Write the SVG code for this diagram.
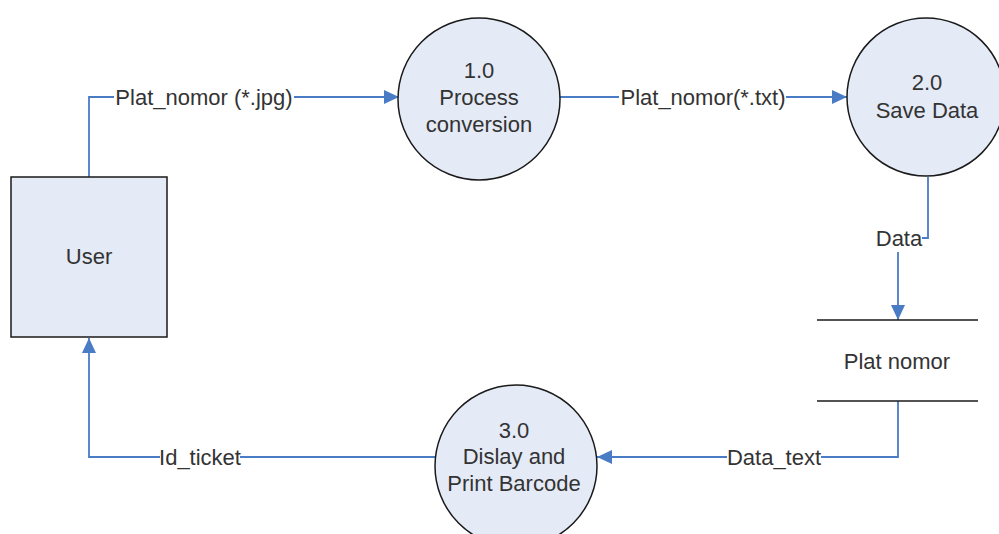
<svg xmlns="http://www.w3.org/2000/svg" width="999" height="534" viewBox="0 0 999 534">
<style>
.node{fill:#E4EAF6;stroke:#1a1a1a;stroke-width:1.5}
.store{stroke:#1a1a1a;stroke-width:1.5;fill:none}
.t{font-family:"Liberation Sans",Arial,sans-serif;font-size:22px;fill:#333;text-anchor:middle}
.conn{fill:none;stroke:#4A7CC6;stroke-width:1.8}
.bg{fill:#fff}
</style>
<defs>
<marker id="arr" markerUnits="userSpaceOnUse" markerWidth="16" markerHeight="14" refX="15" refY="7" orient="auto">
<path d="M0,0 L15,7 L0,14 z" fill="#4A7CC6"/>
</marker>
</defs>
<rect width="999" height="534" fill="#fff"/>
<g id="connectors">
<path class="conn" d="M89,177 V97 H399" marker-end="url(#arr)"/>
<path class="conn" d="M560,97 H847" marker-end="url(#arr)"/>
<path class="conn" d="M928,177 V238 H898 V320" marker-end="url(#arr)"/>
<path class="conn" d="M898,401 V457 H597" marker-end="url(#arr)"/>
<path class="conn" d="M435,457 H89 V338" marker-end="url(#arr)"/>
<rect class="bg" x="114" y="85" width="180" height="24"/>
<text class="t" x="204" y="105">Plat_nomor (*.jpg)</text>
<rect class="bg" x="619" y="85" width="167" height="24"/>
<text class="t" x="703" y="105">Plat_nomor(*.txt)</text>
<rect class="bg" x="877" y="226" width="45" height="26"/>
<text class="t" x="899" y="246">Data</text>
<rect class="bg" x="727" y="445" width="94" height="24"/>
<text class="t" x="774" y="465">Data_text</text>
<rect class="bg" x="160" y="445" width="80" height="24"/>
<text class="t" x="200" y="465">Id_ticket</text>
</g>
<g id="user">
<rect class="node" x="11" y="177" width="156" height="160"/>
<text class="t" x="89" y="264">User</text>
</g>
<g id="p1">
<circle class="node" cx="479" cy="99" r="81"/>
<text class="t" x="479" y="78">1.0</text>
<text class="t" x="479" y="105">Process</text>
<text class="t" x="479" y="132">conversion</text>
</g>
<g id="p2">
<circle class="node" cx="926" cy="97" r="79"/>
<text class="t" x="927" y="90">2.0</text>
<text class="t" x="927" y="118">Save Data</text>
</g>
<g id="store">
<line class="store" x1="817" y1="320" x2="978" y2="320"/>
<line class="store" x1="817" y1="401" x2="978" y2="401"/>
<text class="t" x="897" y="369">Plat nomor</text>
</g>
<g id="p3">
<circle class="node" cx="516" cy="466" r="81"/>
<text class="t" x="514" y="438">3.0</text>
<text class="t" x="514" y="464">Dislay and</text>
<text class="t" x="514" y="491">Print Barcode</text>
</g>
</svg>
